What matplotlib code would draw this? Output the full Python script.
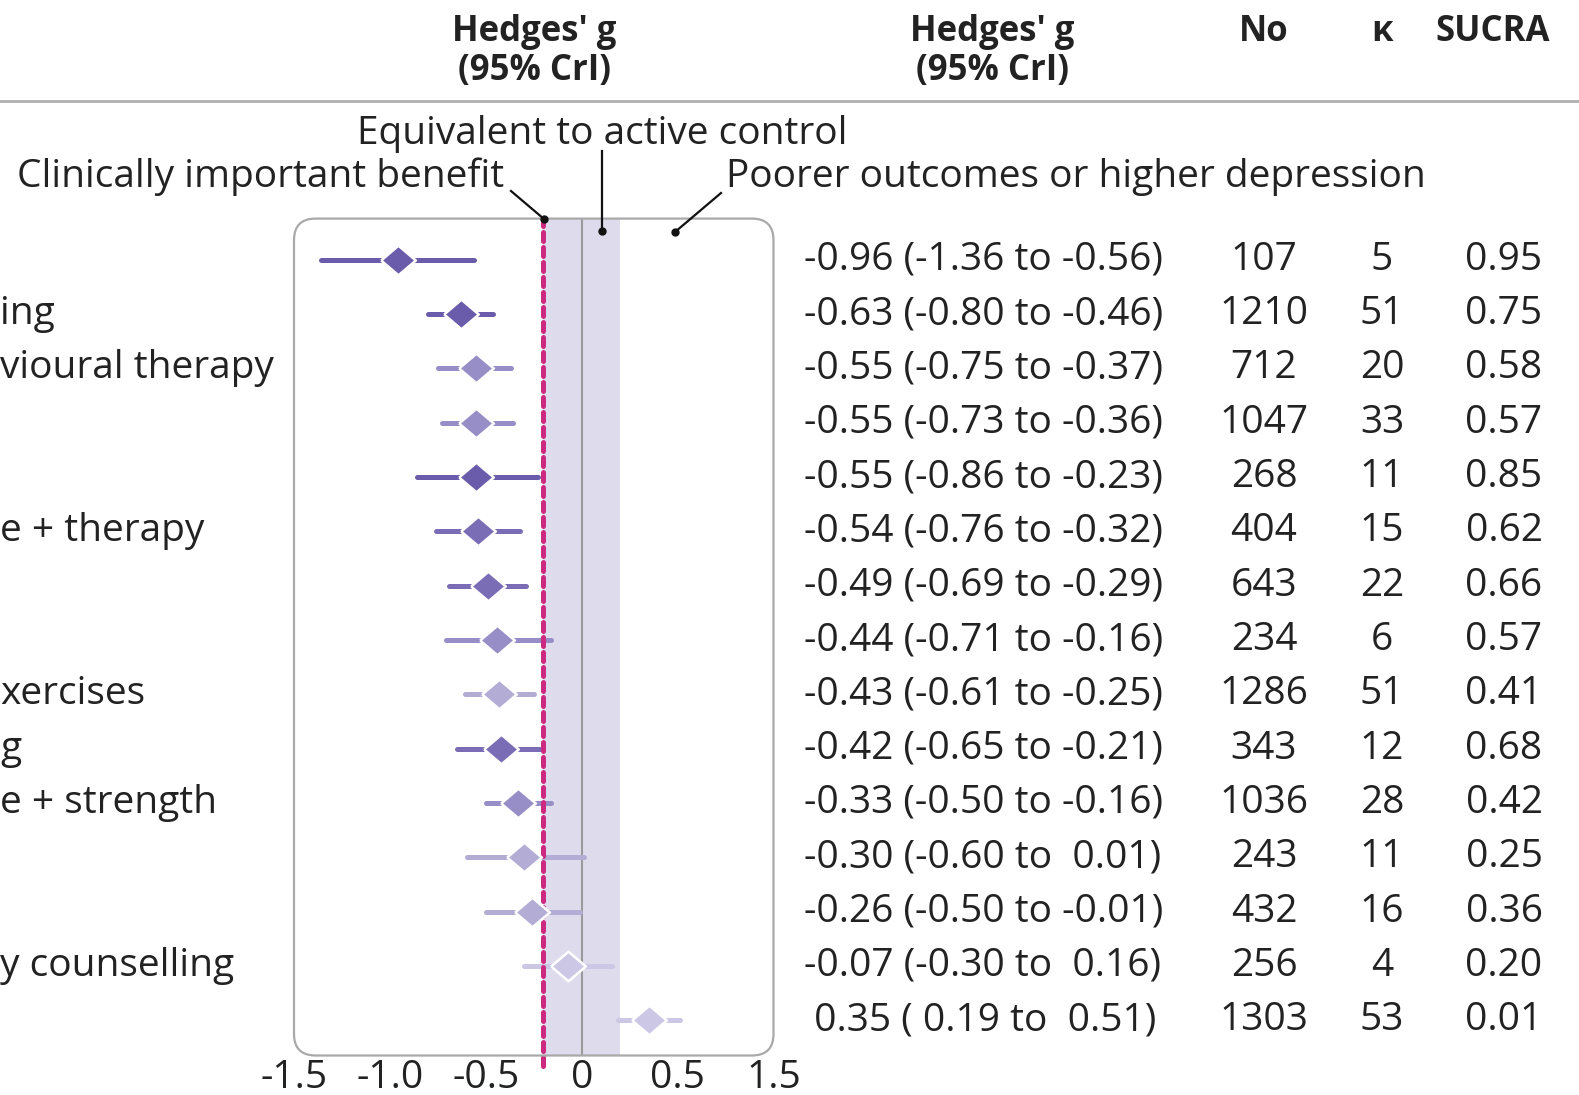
import matplotlib.pyplot as plt
import matplotlib.transforms as mtransforms
from matplotlib.patches import FancyBboxPatch
from matplotlib.lines import Line2D
import numpy as np


plt.rcParams["font.family"] = ["Open Sans", "DejaVu Sans"]

W, H = 1579, 1095

# visible (cropped) part of each row label, as in the picture
row_labels = ["", "ing", "vioural therapy", "", "", "e + therapy", "", "",
              "xercises", "g", "e + strength", "", "", "y counselling", ""]
estimate = [-0.96, -0.63, -0.55, -0.55, -0.55, -0.54, -0.49, -0.44,
            -0.43, -0.42, -0.33, -0.30, -0.26, -0.07, 0.35]
ci_low = [-1.36, -0.80, -0.75, -0.73, -0.86, -0.76, -0.69, -0.71,
          -0.61, -0.65, -0.50, -0.60, -0.50, -0.30, 0.19]
ci_high = [-0.56, -0.46, -0.37, -0.36, -0.23, -0.32, -0.29, -0.16,
           -0.25, -0.21, -0.16, 0.01, -0.01, 0.16, 0.51]
n_participants = [107, 1210, 712, 1047, 268, 404, 643, 234,
                  1286, 343, 1036, 243, 432, 256, 1303]
n_studies = [5, 51, 20, 33, 11, 15, 22, 6, 51, 12, 28, 11, 16, 4, 53]
sucra = [0.95, 0.75, 0.58, 0.57, 0.85, 0.62, 0.66, 0.57,
         0.41, 0.68, 0.42, 0.25, 0.36, 0.20, 0.01]
# shade level of each diamond (4 = darkest)
shade = [4, 4, 2, 2, 4, 3, 3, 2, 1, 3, 2, 1, 1, 0, 0]

xtick_pos = [-1.5, -1.0, -0.5, 0, 0.5, 1.0]
xtick_labels = ["-1.5", "-1.0", "-0.5", "0", "0.5", "1.5"]

mcid = -0.2            # clinically important benefit
equiv_band = (-0.2, 0.2)

palette = {4: "#6a5bab", 3: "#7b6db5", 2: "#978ec7", 1: "#b3acd5", 0: "#cbc7e4"}
text_col = "#222222"
fs = 28
fs_head = 25


def fx(px):
    return px / W


def fy(py):
    return 1 - py / H


fig = plt.figure(figsize=(W / 100, H / 100), dpi=100)
box_l, box_r, box_t, box_b = 294, 773.5, 218.6, 1055.5
ax = fig.add_axes([fx(box_l), fy(box_b), fx(box_r - box_l), (box_b - box_t) / H])

n_rows = len(estimate)
rows = np.arange(n_rows)
ax.set_xlim(-1.5, 1.0)
ax.set_ylim(n_rows - 1 + 0.65, -0.76)

for s in ax.spines.values():
    s.set_visible(False)

# rounded frame
aspect = (box_r - box_l) / (box_b - box_t)
frame = FancyBboxPatch((0, 0), 1, 1, boxstyle="round,pad=0,rounding_size=0.045",
                       mutation_aspect=aspect, transform=ax.transAxes,
                       facecolor="none", edgecolor="#a9a9a9", lw=1.6,
                       clip_on=False, zorder=6)
ax.add_patch(frame)

ax.axvspan(*equiv_band, color="#dedcec", lw=0, zorder=0)
ax.axvline(0, color="#9a9a9a", lw=1.5, zorder=1)
ax.axvline(mcid, ymin=-0.012, ymax=1, color="#cc2a80", lw=3.6,
           ls=(0, (1.8, 1.2)), dash_capstyle="round", clip_on=False, zorder=3)

diamond = [(-1, 0), (0, 0.85), (1, 0), (0, -0.85), (-1, 0)]
for i in rows:
    c = palette[shade[i]]
    ax.plot([ci_low[i], ci_high[i]], [i, i], color=c, lw=3.6,
            solid_capstyle="round", zorder=2)
    ax.plot(estimate[i], i, marker=diamond, ms=25, color=c,
            mec="white", mew=1.8, zorder=4)

ax.set_yticks([])
ax.set_xticks(xtick_pos)
ax.set_xticklabels(xtick_labels, fontsize=fs, color=text_col)
ax.tick_params(axis="x", length=0, pad=2.5)
ax.set_xticks(xtick_pos[1:-1], minor=True)
ax.tick_params(axis="x", which="minor", direction="in", length=9,
               width=1.5, color="#a9a9a9")

# annotations above the frame
fig.text(fx(602), fy(134), "Equivalent to active control", fontsize=fs,
         color=text_col, ha="center", va="center")
fig.text(fx(504), fy(177), "Clinically important benefit", fontsize=fs,
         color=text_col, ha="right", va="center")
fig.text(fx(726), fy(177), "Poorer outcomes or higher depression", fontsize=fs,
         color=text_col, ha="left", va="center")
leaders = [((511, 191), (544, 219)), ((602, 151), (602, 231)), ((721, 193), (675, 232))]
for (x0, y0), (x1, y1) in leaders:
    fig.add_artist(Line2D([fx(x0), fx(x1)], [fy(y0), fy(y1)], color="#111111",
                          lw=1.6, transform=fig.transFigure))
    fig.add_artist(Line2D([fx(x1)], [fy(y1)], marker="o", ms=5, color="#111111",
                          transform=fig.transFigure))

# header
for xc in (534, 992):
    fig.text(fx(xc), fy(41), "Hedges' g", fontsize=fs_head, fontweight="bold",
             color=text_col, ha="center", va="baseline")
    fig.text(fx(xc), fy(80), "(95% CrI)", fontsize=fs_head, fontweight="bold",
             color=text_col, ha="center", va="baseline")
fig.text(fx(1264), fy(41), "No", fontsize=fs_head, fontweight="bold",
         color=text_col, ha="center", va="baseline")
fig.text(fx(1382), fy(41), "κ", fontsize=fs_head, fontweight="bold",
         color=text_col, ha="center", va="baseline")
fig.text(fx(1435), fy(41), "SUCRA", fontsize=fs_head, fontweight="bold",
         color=text_col, ha="left", va="baseline")
fig.add_artist(Line2D([0, 1], [fy(101), fy(101)], color="#b0b0b0", lw=2,
                      transform=fig.transFigure))

# table columns, rows placed through the axis' y scale
trans = mtransforms.blended_transform_factory(fig.transFigure, ax.transData)
for i in rows:
    g_txt = f"{estimate[i]:5.2f} ({ci_low[i]:5.2f} to {ci_high[i]:5.2f})"
    ax.text(fx(804), i, g_txt, transform=trans, fontsize=fs, color=text_col,
            ha="left", va="center")
    ax.text(fx(1264), i, str(n_participants[i]), transform=trans, fontsize=fs,
            color=text_col, ha="center", va="center")
    ax.text(fx(1382), i, str(n_studies[i]), transform=trans, fontsize=fs,
            color=text_col, ha="center", va="center")
    ax.text(fx(1504), i, f"{sucra[i]:.2f}", transform=trans, fontsize=fs,
            color=text_col, ha="center", va="center")
    if row_labels[i]:
        ax.text(0, i, row_labels[i], transform=trans, fontsize=fs,
                color=text_col, ha="left", va="center")

fig.savefig("out.png", dpi=100)
